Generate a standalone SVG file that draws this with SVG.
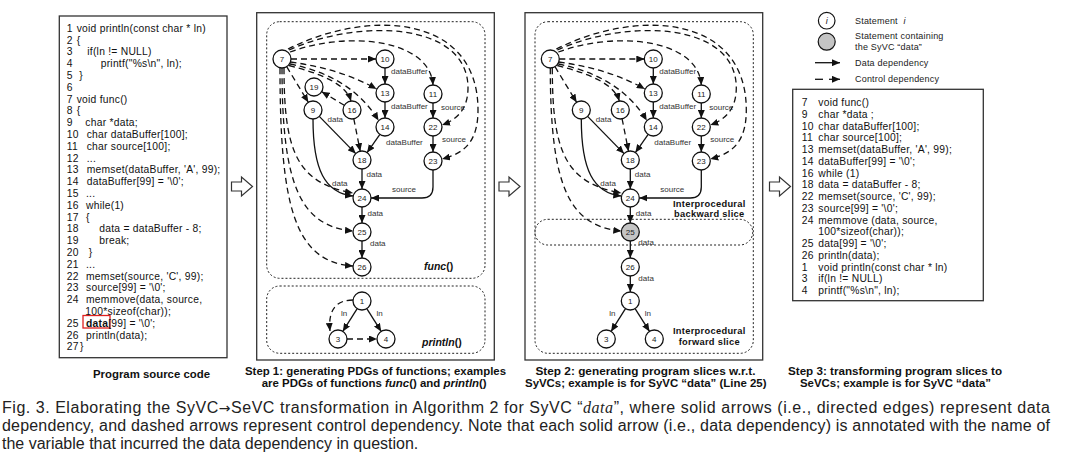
<svg xmlns="http://www.w3.org/2000/svg" width="1080" height="462" viewBox="0 0 1080 462">
<style>
.box{fill:#fff;stroke:#333;stroke-width:1.3}
.dot{fill:none;stroke:#222;stroke-width:1;stroke-dasharray:2,2}
.code{font-family:"Liberation Sans",Arial,sans-serif;font-size:10.3px;letter-spacing:0.25px;fill:#111}
.cap{font-family:"Liberation Sans",Arial,sans-serif;font-size:10.5px;font-weight:bold;fill:#111}
.nd circle{fill:#fff;stroke:#111;stroke-width:1.3}
.nd text{font-family:"Liberation Sans",Arial,sans-serif;font-size:8px;fill:#222;text-anchor:middle}
.lb{font-family:"Liberation Sans",Arial,sans-serif;font-size:8px;fill:#333}
.d{fill:none;stroke:#111;stroke-width:1.3;marker-end:url(#ah)}
.c{fill:none;stroke:#111;stroke-width:1.3;stroke-dasharray:6,4;marker-end:url(#ah)}
.bl{font-family:"Liberation Sans",Arial,sans-serif;font-size:9.3px;letter-spacing:0.3px;font-weight:bold;fill:#111;text-anchor:middle}
.lg{font-family:"Liberation Sans",Arial,sans-serif;font-size:9px;letter-spacing:0.2px;fill:#222}
.fig{font-family:"Liberation Sans",Arial,sans-serif;font-size:16px;fill:#222}
.blk{fill:#fff;stroke:#333;stroke-width:1.2}
</style>
<defs>
<marker id="ah" markerUnits="userSpaceOnUse" markerWidth="8" markerHeight="7" refX="8" refY="3.5" orient="auto" viewBox="0 0 8 7"><path d="M0,0 L8,3.5 L0,7 z" fill="#111"/></marker>
</defs>
<rect width="1080" height="462" fill="#fff"/>

<!-- Source code panel -->
<g id="source-code">
<rect class="box" x="59.3" y="16" width="167.7" height="341.7"/>
<rect x="83" y="315.5" width="27" height="12.5" fill="none" stroke="#e02020" stroke-width="1.3"/>
<g class="code">
<text x="66.7" y="31.7">1</text><text x="76.7" y="31.7">void println(const char * ln)</text>
<text x="66.7" y="43.5">2</text><text x="76.7" y="43.5">{</text>
<text x="66.7" y="55.3">3</text><text x="87.3" y="55.3">if(ln != NULL)</text>
<text x="66.7" y="67.1">4</text><text x="100.7" y="67.1">printf("%s\n", ln);</text>
<text x="66.7" y="78.9">5</text><text x="79.3" y="78.9">}</text>
<text x="66.7" y="90.7">6</text>
<text x="66.7" y="102.5">7</text><text x="76.7" y="102.5">void func()</text>
<text x="66.7" y="114.3">8</text><text x="76.7" y="114.3">{</text>
<text x="66.7" y="126.1">9</text><text x="85.3" y="126.1">char *data;</text>
<text x="66.7" y="137.9">10</text><text x="86.7" y="137.9">char dataBuffer[100];</text>
<text x="66.7" y="149.7">11</text><text x="86.7" y="149.7">char source[100];</text>
<text x="66.7" y="161.5">12</text><text x="86.7" y="161.5">...</text>
<text x="66.7" y="173.3">13</text><text x="86.7" y="173.3">memset(dataBuffer, 'A', 99);</text>
<text x="66.7" y="185.1">14</text><text x="86.7" y="185.1">dataBuffer[99] = '\0';</text>
<text x="66.7" y="196.9">15</text><text x="86" y="196.9">...</text>
<text x="66.7" y="208.7">16</text><text x="86" y="208.7">while(1)</text>
<text x="66.7" y="220.5">17</text><text x="86" y="220.5">{</text>
<text x="66.7" y="232.3">18</text><text x="99.3" y="232.3">data = dataBuffer - 8;</text>
<text x="66.7" y="244.1">19</text><text x="99.3" y="244.1">break;</text>
<text x="66.7" y="255.9">20</text><text x="88.7" y="255.9">}</text>
<text x="66.7" y="267.7">21</text><text x="86" y="267.7">...</text>
<text x="66.7" y="279.5">22</text><text x="86" y="279.5">memset(source, 'C', 99);</text>
<text x="66.7" y="291.3">23</text><text x="86" y="291.3">source[99] = '\0';</text>
<text x="66.7" y="303.1">24</text><text x="86" y="303.1">memmove(data, source,</text>
<text x="85.3" y="314.9">100*sizeof(char));</text>
<text x="66.7" y="326.7">25</text><text x="86" y="326.7"><tspan font-weight="bold">data</tspan>[99] = '\0';</text>
<text x="66.7" y="338.5">26</text><text x="86" y="338.5">println(data);</text>
<text x="66.7" y="350.3">27</text><text x="80" y="350.3">}</text>
</g>
<text class="cap" x="93" y="378" font-size="11.5" textLength="117" lengthAdjust="spacingAndGlyphs">Program source code</text>
</g>

<!-- Block arrows -->
<g id="flow-arrows">
<path class="blk" d="M231.5,182 L241.5,182 L241.5,177 L252.5,186.5 L241.5,196 L241.5,191 L231.5,191 Z"/>
<path class="blk" d="M499,182 L509,182 L509,177 L520,186.5 L509,196 L509,191 L499,191 Z"/>
<path class="blk" d="M769.5,182 L779.5,182 L779.5,177 L790.5,186.5 L779.5,196 L779.5,191 L769.5,191 Z"/>
</g>

<!-- Step 1 panel -->
<g id="step1">
<rect class="box" x="256.7" y="12.7" width="237.6" height="347.3"/>
<rect class="dot" x="266.7" y="21.7" width="218.3" height="256.6" rx="13"/>
<rect class="dot" x="266.7" y="286" width="218.3" height="67.3" rx="13"/>
<g id="step1-connectors">
<path class="d" d="M385,68 L385,84"/>
<path class="d" d="M385,102 L385,118"/>
<path class="d" d="M433,103 L433,118"/>
<path class="d" d="M433,136 L433,152"/>
<path class="d" d="M319.3,116.4 L355.7,153.6"/>
<path class="d" d="M379.9,134.4 L367.1,152.6"/>
<path class="d" d="M362,169 L362,189"/>
<path class="d" d="M362,207 L362,223"/>
<path class="d" d="M362,241 L362,258"/>
<path class="d" d="M313,119 C313,170 325,193 353,196"/>
<path class="d" d="M433,170 L433,187 Q433,198 422,198 L371,198"/>
<path class="d" d="M357.2,308.6 L342.8,331.4"/>
<path class="d" d="M366.8,308.6 L381.2,331.4"/>
<path class="c" d="M291,59 L376,59"/>
<path class="c" d="M290.5,62 C320,66 350,74 376.5,89"/>
<path class="c" d="M290,64 C330,72 360,90 378.5,120.5"/>
<path class="c" d="M289,65.5 C322,74 346,84 351,101"/>
<path class="c" d="M286.7,66.7 L308.3,102.3"/>
<path class="c" d="M290,52 C350,30 430,40 433,85"/>
<path class="c" d="M289,50 C360,18 468,22 468,88 C468,110 456,120 442,125"/>
<path class="c" d="M288,49 C370,8 478,15 478,110 C478,140 466,153 442,159"/>
<path class="c" d="M284,68 C284,150 296,183 353,193"/>
<path class="c" d="M282,68 C282,185 300,226 353,231"/>
<path class="c" d="M280,68 C280,205 294,262 353,266"/>
<path class="c" d="M353.8,118.8 L360.2,151.2"/>
<path class="c" d="M344.3,105.3 L321.7,91.7"/>
<path class="c" d="M347,339 L377,339"/>
<path class="c" d="M353,300 Q327,300 330,331"/>
</g>
<g class="lb">
<text x="391" y="74">dataBuffer</text>
<text x="391" y="109">dataBuffer</text>
<text x="441" y="109.5">source</text>
<text x="442" y="142">source</text>
<text x="386" y="145">dataBuffer</text>
<text x="327.5" y="122">data</text>
<text x="366.5" y="177">data</text>
<text x="332" y="186">data</text>
<text x="392" y="191.5">source</text>
<text x="367.5" y="216">data</text>
<text x="370" y="246">data</text>
<text x="341" y="316">ln</text>
<text x="376.5" y="316">ln</text>
</g>
<g id="s1-n7" class="nd"><circle cx="282" cy="59" r="9"/><text x="282" y="62">7</text></g>
<g id="s1-n10" class="nd"><circle cx="385" cy="59" r="9"/><text x="385" y="62">10</text></g>
<g id="s1-n13" class="nd"><circle cx="385" cy="93" r="9"/><text x="385" y="96">13</text></g>
<g id="s1-n14" class="nd"><circle cx="385" cy="127" r="9"/><text x="385" y="130">14</text></g>
<g id="s1-n11" class="nd"><circle cx="433" cy="94" r="9"/><text x="433" y="97">11</text></g>
<g id="s1-n22" class="nd"><circle cx="433" cy="127" r="9"/><text x="433" y="130">22</text></g>
<g id="s1-n23" class="nd"><circle cx="433" cy="161" r="9"/><text x="433" y="164">23</text></g>
<g id="s1-n19" class="nd"><circle cx="314" cy="87" r="9"/><text x="314" y="90">19</text></g>
<g id="s1-n9" class="nd"><circle cx="313" cy="110" r="9"/><text x="313" y="113">9</text></g>
<g id="s1-n16" class="nd"><circle cx="352" cy="110" r="9"/><text x="352" y="113">16</text></g>
<g id="s1-n18" class="nd"><circle cx="362" cy="160" r="9"/><text x="362" y="163">18</text></g>
<g id="s1-n24" class="nd"><circle cx="362" cy="198" r="9"/><text x="362" y="201">24</text></g>
<g id="s1-n25" class="nd"><circle cx="362" cy="232" r="9"/><text x="362" y="235">25</text></g>
<g id="s1-n26" class="nd"><circle cx="362" cy="267" r="9"/><text x="362" y="270">26</text></g>
<g id="s1-n1" class="nd"><circle cx="362" cy="301" r="9"/><text x="362" y="304">1</text></g>
<g id="s1-n3" class="nd"><circle cx="338" cy="339" r="9"/><text x="338" y="342">3</text></g>
<g id="s1-n4" class="nd"><circle cx="386" cy="339" r="9"/><text x="386" y="342">4</text></g>
<text class="cap" x="424" y="270" font-size="10"><tspan font-style="italic">func</tspan>()</text>
<text class="cap" x="422" y="346" font-size="10"><tspan font-style="italic">println</tspan>()</text>
<text class="cap" x="245" y="375" textLength="261" lengthAdjust="spacingAndGlyphs">Step 1: generating PDGs of functions; examples</text>
<text class="cap" x="261.7" y="386.5" textLength="225" lengthAdjust="spacingAndGlyphs">are PDGs of functions <tspan font-style="italic">func</tspan>() and <tspan font-style="italic">println</tspan>()</text>
</g>

<!-- Step 2 panel -->
<g id="step2">
<rect class="box" x="525" y="12.7" width="237.7" height="347.3"/>
<g transform="translate(268.3,0)">
<rect class="dot" x="266.7" y="21.7" width="218.3" height="331.6" rx="13"/>
<rect class="dot" x="266.7" y="219.3" width="217.7" height="25.7" rx="12.8"/>
<g id="step2-connectors">
<path class="d" d="M385,68 L385,84"/>
<path class="d" d="M385,102 L385,118"/>
<path class="d" d="M433,103 L433,118"/>
<path class="d" d="M433,136 L433,152"/>
<path class="d" d="M319.3,116.4 L355.7,153.6"/>
<path class="d" d="M379.9,134.4 L367.1,152.6"/>
<path class="d" d="M362,169 L362,189"/>
<path class="d" d="M362,207 L362,223"/>
<path class="d" d="M362,241 L362,258"/>
<path class="d" d="M362,276 L362,292"/>
<path class="d" d="M313,119 C313,170 325,193 353,196"/>
<path class="d" d="M433,170 L433,187 Q433,198 422,198 L371,198"/>
<path class="d" d="M357.2,308.6 L342.8,331.4"/>
<path class="d" d="M366.8,308.6 L381.2,331.4"/>
<path class="c" d="M291,59 L376,59"/>
<path class="c" d="M290.5,62 C320,66 350,74 376.5,89"/>
<path class="c" d="M290,64 C330,72 360,90 378.5,120.5"/>
<path class="c" d="M289,65.5 C322,74 346,84 351,101"/>
<path class="c" d="M286.7,66.7 L308.3,102.3"/>
<path class="c" d="M290,52 C350,30 430,40 433,85"/>
<path class="c" d="M289,50 C360,18 468,22 468,88 C468,110 456,120 442,125"/>
<path class="c" d="M288,49 C370,8 478,15 478,110 C478,140 466,153 442,159"/>
<path class="c" d="M284,68 C284,150 296,183 353,193"/>
<path class="c" d="M282,68 C282,185 300,226 353,231"/>
<path class="c" d="M353.8,118.8 L360.2,151.2"/>
</g>
<g class="lb">
<text x="391" y="74">dataBuffer</text>
<text x="391" y="109">dataBuffer</text>
<text x="441" y="109.5">source</text>
<text x="442" y="142">source</text>
<text x="386" y="145">dataBuffer</text>
<text x="327.5" y="122">data</text>
<text x="366.5" y="177">data</text>
<text x="332" y="186">data</text>
<text x="392" y="191.5">source</text>
<text x="367.5" y="216">data</text>
<text x="370" y="244.5">data</text>
<text x="370" y="280.5">data</text>
<text x="341" y="316">ln</text>
<text x="376.5" y="316">ln</text>
</g>
<g id="s2-n7" class="nd"><circle cx="282" cy="59" r="9"/><text x="282" y="62">7</text></g>
<g id="s2-n10" class="nd"><circle cx="385" cy="59" r="9"/><text x="385" y="62">10</text></g>
<g id="s2-n13" class="nd"><circle cx="385" cy="93" r="9"/><text x="385" y="96">13</text></g>
<g id="s2-n14" class="nd"><circle cx="385" cy="127" r="9"/><text x="385" y="130">14</text></g>
<g id="s2-n11" class="nd"><circle cx="433" cy="94" r="9"/><text x="433" y="97">11</text></g>
<g id="s2-n22" class="nd"><circle cx="433" cy="127" r="9"/><text x="433" y="130">22</text></g>
<g id="s2-n23" class="nd"><circle cx="433" cy="161" r="9"/><text x="433" y="164">23</text></g>
<g id="s2-n9" class="nd"><circle cx="313" cy="110" r="9"/><text x="313" y="113">9</text></g>
<g id="s2-n16" class="nd"><circle cx="352" cy="110" r="9"/><text x="352" y="113">16</text></g>
<g id="s2-n18" class="nd"><circle cx="362" cy="160" r="9"/><text x="362" y="163">18</text></g>
<g id="s2-n24" class="nd"><circle cx="362" cy="198" r="9"/><text x="362" y="201">24</text></g>
<g id="s2-n25" class="nd"><circle cx="362" cy="232" r="9" style="fill:#c4c4c4"/><text x="362" y="235">25</text></g>
<g id="s2-n26" class="nd"><circle cx="362" cy="267" r="9"/><text x="362" y="270">26</text></g>
<g id="s2-n1" class="nd"><circle cx="362" cy="301" r="9"/><text x="362" y="304">1</text></g>
<g id="s2-n3" class="nd"><circle cx="338" cy="339" r="9"/><text x="338" y="342">3</text></g>
<g id="s2-n4" class="nd"><circle cx="386" cy="339" r="9"/><text x="386" y="342">4</text></g>
<text class="bl" x="441" y="206.5">Interprocedural</text>
<text class="bl" x="441" y="217">backward slice</text>
<text class="bl" x="441" y="334">Interprocedural</text>
<text class="bl" x="441" y="344.5">forward slice</text>
</g>
<text class="cap" x="535.5" y="375" textLength="220" lengthAdjust="spacingAndGlyphs">Step 2: generating program slices w.r.t.</text>
<text class="cap" x="525" y="386.5" textLength="241.5" lengthAdjust="spacingAndGlyphs">SyVCs; example is for SyVC “data” (Line 25)</text>
</g>

<!-- Legend -->
<g id="legend">
<circle cx="826.7" cy="20.7" r="8.3" fill="#fff" stroke="#111" stroke-width="1.2"/>
<text x="826.7" y="24" font-family="Liberation Sans, Arial, sans-serif" font-size="9" font-style="italic" text-anchor="middle" fill="#222">i</text>
<text class="lg" x="855" y="23.8">Statement <tspan font-style="italic" dx="3">i</tspan></text>
<circle cx="826.7" cy="41.7" r="8.5" fill="#c4c4c4" stroke="#111" stroke-width="1.2"/>
<text class="lg" x="855" y="39">Statement containing</text>
<text class="lg" x="855" y="49.7">the SyVC “data”</text>
<path class="d" d="M815,62.7 L840,62.7"/>
<text class="lg" x="855" y="65.8">Data dependency</text>
<line x1="815" y1="79.3" x2="823" y2="79.3" stroke="#111" stroke-width="1.3"/>
<path class="d" d="M829,79.3 L840,79.3"/>
<text class="lg" x="855" y="82.4">Control dependency</text>
</g>

<!-- Step 3 panel -->
<g id="step3">
<rect class="box" x="792.7" y="89.3" width="190.6" height="211.4"/>
<g class="code">
<text x="801.7" y="106">7</text><text x="818.3" y="106">void func()</text>
<text x="801.7" y="117.75">9</text><text x="818.3" y="117.75">char *data ;</text>
<text x="801.7" y="129.5">10</text><text x="818.3" y="129.5">char dataBuffer[100];</text>
<text x="801.7" y="141.25">11</text><text x="818.3" y="141.25">char source[100];</text>
<text x="801.7" y="153">13</text><text x="818.3" y="153">memset(dataBuffer, 'A', 99);</text>
<text x="801.7" y="164.75">14</text><text x="818.3" y="164.75">dataBuffer[99] = '\0';</text>
<text x="801.7" y="176.5">16</text><text x="818.3" y="176.5">while (1)</text>
<text x="801.7" y="188.25">18</text><text x="818.3" y="188.25">data = dataBuffer - 8;</text>
<text x="801.7" y="200">22</text><text x="818.3" y="200">memset(source, 'C', 99);</text>
<text x="801.7" y="211.75">23</text><text x="818.3" y="211.75">source[99] = '\0';</text>
<text x="801.7" y="223.5">24</text><text x="818.3" y="223.5">memmove (data, source,</text>
<text x="818.3" y="235.25">100*sizeof(char));</text>
<text x="801.7" y="247">25</text><text x="818.3" y="247">data[99] = '\0';</text>
<text x="801.7" y="258.75">26</text><text x="818.3" y="258.75">println(data);</text>
<text x="801.7" y="270.5">1</text><text x="818.3" y="270.5">void println(const char * ln)</text>
<text x="801.7" y="282.25">3</text><text x="818.3" y="282.25">if(ln != NULL)</text>
<text x="801.7" y="294">4</text><text x="818.3" y="294">printf("%s\n", ln);</text>
</g>
<text class="cap" x="788" y="375" textLength="214" lengthAdjust="spacingAndGlyphs">Step 3: transforming program slices to</text>
<text class="cap" x="800" y="386.5" textLength="191" lengthAdjust="spacingAndGlyphs">SeVCs; example is for SyVC “data”</text>
</g>

<!-- Figure caption -->
<g id="caption" class="fig">
<text x="2" y="413" textLength="1048" lengthAdjust="spacing">Fig. 3. Elaborating the SyVC<tspan font-family="DejaVu Sans, sans-serif" font-size="14">→</tspan>SeVC transformation in Algorithm 2 for SyVC “<tspan font-family="Liberation Serif, serif" font-style="italic">data</tspan>”, where solid arrows (i.e., directed edges) represent data</text>
<text x="2" y="431" textLength="1048" lengthAdjust="spacing">dependency, and dashed arrows represent control dependency. Note that each solid arrow (i.e., data dependency) is annotated with the name of</text>
<text x="2" y="449">the variable that incurred the data dependency in question.</text>
</g>
</svg>
